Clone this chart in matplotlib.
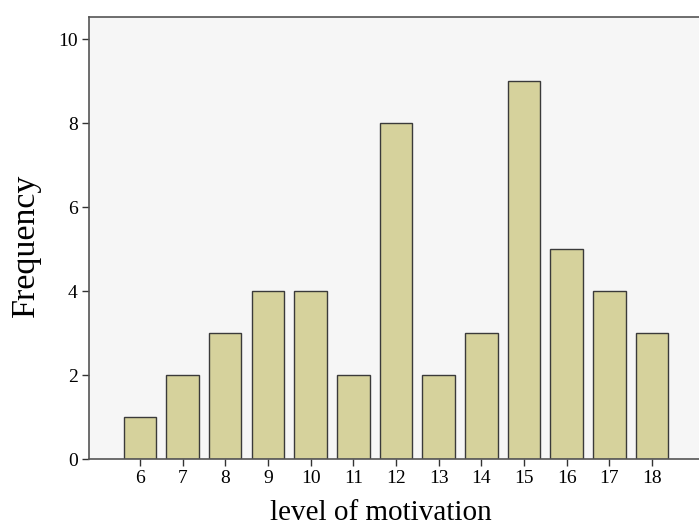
import matplotlib
matplotlib.use('Agg')
import matplotlib.pyplot as plt

levels = [6, 7, 8, 9, 10, 11, 12, 13, 14, 15, 16, 17, 18]
freq = [1, 2, 3, 4, 4, 2, 8, 2, 3, 9, 5, 4, 3]
yticks = [0, 2, 4, 6, 8, 10]

plt.rcParams['font.family'] = ['Liberation Serif', 'DejaVu Serif']

fig = plt.figure(figsize=(6.99, 5.25), dpi=100)
ax = fig.add_axes([0.1269, 0.1257, 0.8731, 0.8419])
ax.set_facecolor('#f6f6f6')

ax.bar(levels, freq, width=0.76, color='#d6d29c', edgecolor='#3a3a3a', linewidth=1.0, zorder=2)

ax.set_xlim(4.8, 19.1)
ax.set_ylim(0, 10.53)
ax.set_xticks(levels)
ax.set_yticks(yticks)
ax.tick_params(direction='out', length=5, width=1, colors='#333333', labelsize=14,
               labelcolor='black', pad=3)

for s in ['left', 'bottom', 'top']:
    ax.spines[s].set_color('#555555')
    ax.spines[s].set_linewidth(1.2)
ax.spines['right'].set_visible(False)

ax.set_xlabel('level of motivation', fontsize=21)
ax.set_ylabel('Frequency', fontsize=24.5)
ax.xaxis.set_label_coords(0.5 - (699 * 0.8731 / 2 - (381 - 88.7)) / (699 * 0.8731), -0.093)
ax.yaxis.set_label_coords(-0.078, 0.484)

fig.savefig('out.png', dpi=100)
